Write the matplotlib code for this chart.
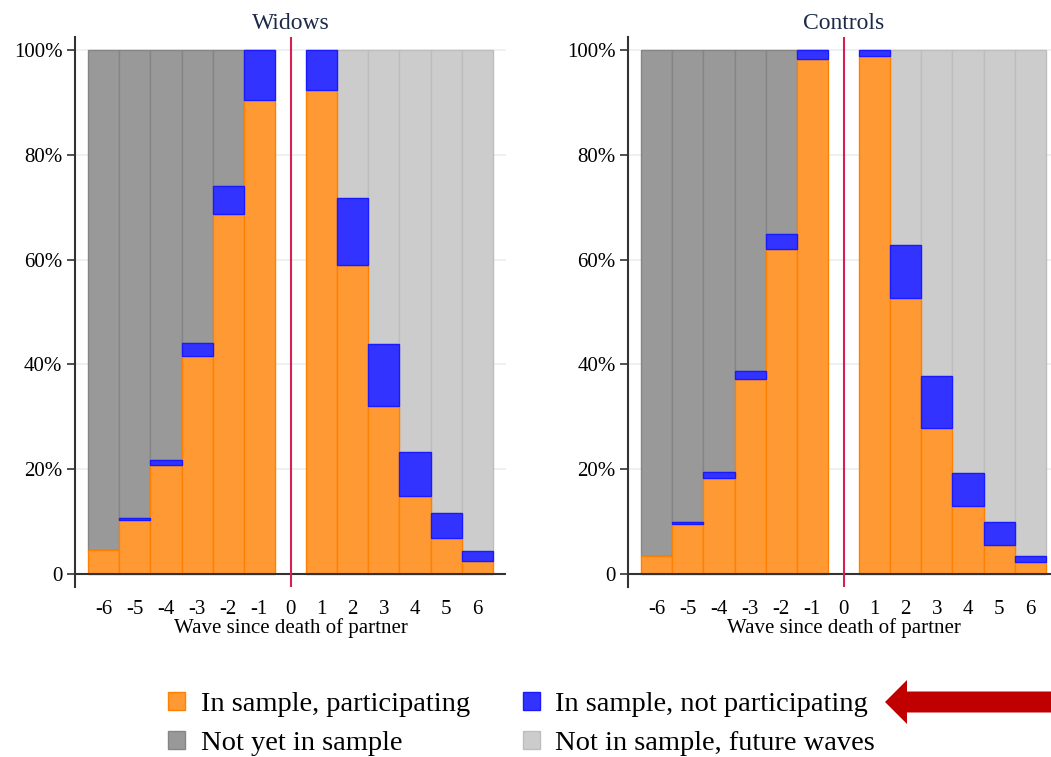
import matplotlib
matplotlib.use("Agg")
import matplotlib.pyplot as plt
from matplotlib.patches import Patch, FancyArrow
import numpy as np

plt.rcParams['font.family'] = ['Liberation Serif', 'DejaVu Serif']

waves = [-6, -5, -4, -3, -2, -1, 1, 2, 3, 4, 5, 6]
tick_labels = ['-6', '-5', '-4', '-3', '-2', '-1', '0', '1', '2', '3', '4', '5', '6']

# Widows: share participating and share in sample but not participating (%)
widows_part = [4.6, 10.2, 20.8, 41.6, 68.7, 90.5, 92.4, 59.0, 32.1, 14.9, 6.8, 2.5]
widows_nonpart = [0.0, 0.4, 0.9, 2.4, 5.3, 9.5, 7.6, 12.8, 11.8, 8.4, 4.8, 1.8]

controls_part = [3.5, 9.5, 18.4, 37.2, 62.0, 98.3, 98.9, 52.6, 27.9, 13.0, 5.6, 2.2]
controls_nonpart = [0.0, 0.4, 1.0, 1.6, 2.9, 1.7, 1.1, 10.2, 9.9, 6.3, 4.3, 1.3]

panels = [("Widows", widows_part, widows_nonpart),
          ("Controls", controls_part, controls_nonpart)]

ORANGE, ORANGE_E = '#ff9933', '#ff8000'
BLUE, BLUE_E = '#3333ff', '#1a1aff'
DGREY, DGREY_E = '#999999', '#858585'
LGREY, LGREY_E = '#cccccc', '#bdbdbd'

W, H = 1051, 757
fig = plt.figure(figsize=(W / 100, H / 100), dpi=100)

lefts = [75, 628]
for (title, part, nonpart), lpx in zip(panels, lefts):
    ax = fig.add_axes([lpx / W, 170 / H, 431 / W, 550 / H])
    x = np.array(waves)
    part = np.array(part)
    nonpart = np.array(nonpart)
    top = part + nonpart
    rest = 100 - top
    rest_colors = [DGREY if w < 0 else LGREY for w in waves]
    rest_edges = [DGREY_E if w < 0 else LGREY_E for w in waves]
    ax.bar(x, part, width=1.0, color=ORANGE, edgecolor=ORANGE_E, linewidth=1, zorder=2)
    nz = nonpart > 0
    ax.bar(x[nz], nonpart[nz], bottom=part[nz], width=1.0, color=BLUE,
           edgecolor=BLUE_E, linewidth=1, zorder=2)
    ax.bar(x, rest, bottom=top, width=1.0, color=rest_colors, edgecolor=rest_edges,
           linewidth=1, zorder=1.9)

    ax.set_xlim(-6.92, 6.92)
    ax.set_ylim(-2.5, 102.5)
    ax.set_yticks([0, 20, 40, 60, 80, 100])
    ax.set_yticklabels(['0', '20%', '40%', '60%', '80%', '100%'])
    ax.set_xticks(range(-6, 7))
    ax.set_xticklabels(tick_labels)
    ax.grid(axis='y', color='#e8eff2', linewidth=1.2, zorder=0)
    ax.set_axisbelow(True)
    for s in ['top', 'right', 'bottom']:
        ax.spines[s].set_visible(False)
    ax.spines['left'].set_color('#333333')
    ax.spines['left'].set_linewidth(1.5)
    ax.tick_params(axis='y', length=6, width=1.2, color='#333333', labelsize=15, pad=3)
    ax.tick_params(axis='x', length=0, labelsize=15, pad=9)
    ax.axhline(0, color='#333333', linewidth=1.5, zorder=3)
    ax.axvline(0, color='#d6204f', linewidth=1.5, zorder=4)
    ax.set_xlabel('Wave since death of partner', fontsize=15, labelpad=0)
    ax.set_title(title, fontsize=17, color='#1c2a48', pad=6)

handles = [Patch(facecolor=ORANGE, edgecolor=ORANGE_E),
           Patch(facecolor=DGREY, edgecolor=DGREY_E),
           Patch(facecolor=BLUE, edgecolor=BLUE_E),
           Patch(facecolor=LGREY, edgecolor=LGREY_E)]
labels = ['In sample, participating', 'Not yet in sample',
          'In sample, not participating', 'Not in sample, future waves']
fig.legend(handles, labels, ncol=2, frameon=False, fontsize=20.5,
           loc='upper left', bbox_to_anchor=(168 / W, 1 - 692 / H),
           borderpad=0, borderaxespad=0, handlelength=0.6, handleheight=0.6,
           handletextpad=0.55, columnspacing=1.85, labelspacing=0.5)

arrow = FancyArrow(1055 / W, 1 - 702 / H, -(1055 - 885) / W, 0,
                   width=21 / H, head_width=44 / H, head_length=22 / W,
                   length_includes_head=True, transform=fig.transFigure,
                   color='#c00000', linewidth=0)
fig.patches.append(arrow)

fig.savefig('out.png', dpi=100)
